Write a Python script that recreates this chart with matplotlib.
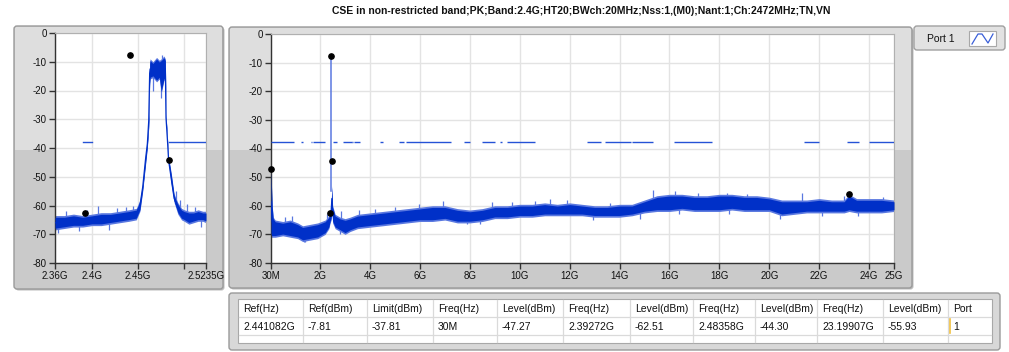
import matplotlib
matplotlib.use('Agg')
import matplotlib.pyplot as plt
from matplotlib.patches import FancyBboxPatch, Rectangle
from matplotlib.lines import Line2D
from matplotlib.transforms import Affine2D
import numpy as np

plt.rcParams['font.family'] = ['Liberation Sans', 'DejaVu Sans']

TITLE = "CSE in non-restricted band;PK;Band:2.4G;HT20;BWch:20MHz;Nss:1,(M0);Nant:1;Ch:2472MHz;TN,VN"

# ---------------- data: zoomed (band-edge) view, GHz / dBm ----------------
zoom_freq = [2.360, 2.370, 2.380, 2.390, 2.400, 2.410, 2.420, 2.430, 2.440, 2.448,
             2.452, 2.455, 2.458, 2.460, 2.4615, 2.4625, 2.463, 2.466, 2.470, 2.473,
             2.475, 2.478, 2.4795, 2.4802, 2.4817, 2.4830, 2.486, 2.489, 2.493, 2.497,
             2.500, 2.505, 2.510, 2.515, 2.520, 2.5235]
zoom_low = [-68.5, -68.0, -67.5, -67.5, -67.0, -67.0, -66.5, -66.0, -65.5, -65.0,
            -62.0, -55.0, -46.0, -40.0, -33.0, -18.0, -16.0, -15.5, -17.0, -16.0,
            -21.0, -16.5, -16.0, -31.0, -38.0, -45.5, -53.0, -59.0, -63.0, -65.0,
            -65.5, -66.5, -66.0, -65.5, -65.5, -66.0]
zoom_high = [-63.5, -63.5, -63.0, -63.5, -63.0, -62.5, -62.5, -62.0, -61.5, -61.0,
             -58.0, -52.0, -42.0, -37.0, -28.0, -10.0, -9.0, -10.0, -8.5, -9.5,
             -9.0, -8.0, -9.0, -28.0, -36.0, -43.0, -49.0, -56.0, -59.0, -61.0,
             -61.5, -62.0, -62.0, -61.5, -62.0, -62.0]
zoom_spike_freq = [2.363, 2.372, 2.386, 2.395, 2.407, 2.418, 2.427, 2.437, 2.444, 2.466,
                   2.4745, 2.476, 2.4905, 2.495, 2.503, 2.512, 2.518]
zoom_spike_level = [-69.5, -62.0, -69.0, -61.5, -60.0, -68.5, -61.0, -60.5, -60.0, -20.0,
                    -22.5, -7.5, -55.0, -58.0, -59.5, -60.5, -67.5]
zoom_xticks = [2.36, 2.40, 2.45, 2.50, 2.5235]
zoom_xticklabels = ['2.36G', '2.4G', '2.45G', '', '2.5235G']
zoom_limit_segments = [(2.39, 2.40), (2.4835, 2.5235)]

# ---------------- data: full sweep 30 MHz - 25 GHz ----------------
full_freq = [0.03, 0.05, 0.08, 0.12, 0.2, 0.5, 0.8, 1.1, 1.3, 1.6, 1.9, 2.2, 2.35, 2.40,
             2.44, 2.47, 2.50, 2.6, 2.8, 3.0, 3.2, 3.5, 4.0, 4.5, 5.0, 5.5, 6.0, 6.5, 7.0,
             7.5, 8.0, 8.5, 9.0, 9.5, 10.0, 10.5, 11.0, 11.5, 12.0, 12.5, 13.0, 13.5,
             14.0, 14.5, 15.0, 15.5, 16.0, 16.5, 17.0, 17.5, 18.0, 18.5, 19.0, 19.5,
             20.0, 20.5, 21.0, 21.5, 22.0, 22.5, 23.0, 23.2, 23.5, 24.0, 24.5, 25.0]
full_low = [-70.0, -71.0, -71.0, -71.0, -71.0, -70.5, -71.0, -71.5, -72.5, -72.0, -71.5,
            -70.0, -68.0, -66.0, -65.0, -62.0, -66.0, -68.0, -69.0, -70.0, -69.0, -68.0,
            -67.5, -67.0, -66.5, -66.0, -65.5, -65.5, -65.0, -66.0, -66.0, -65.5, -64.5,
            -64.5, -64.0, -64.0, -63.5, -63.5, -63.5, -63.5, -64.0, -64.0, -64.0, -63.5,
            -62.5, -62.0, -62.0, -61.5, -62.0, -62.0, -62.0, -61.5, -62.0, -62.0, -62.0,
            -63.5, -63.0, -62.5, -62.5, -62.5, -62.5, -62.0, -62.5, -62.5, -62.5, -62.0]
full_high = [-47.3, -53.0, -60.0, -64.0, -65.0, -65.5, -65.0, -66.0, -67.0, -66.5, -66.0,
             -65.0, -63.5, -62.5, -59.0, -53.0, -60.0, -63.0, -64.0, -64.5, -64.0, -63.0,
             -62.5, -62.0, -61.5, -61.0, -60.5, -60.0, -60.0, -61.0, -61.5, -61.0, -60.0,
             -60.0, -59.5, -59.5, -59.0, -59.5, -59.0, -59.5, -60.0, -60.0, -59.5, -59.5,
             -58.0, -56.5, -56.0, -56.0, -56.5, -56.5, -56.0, -56.0, -56.5, -56.5, -57.0,
             -58.0, -58.0, -58.0, -57.5, -58.0, -58.0, -56.0, -57.5, -57.5, -57.5, -58.0]
full_spike_freq = [0.59, 0.87, 1.34, 1.40, 2.28, 2.80, 2.85, 3.54, 4.2, 5.0, 5.95, 6.92,
                   7.9, 8.41, 8.88, 9.7, 10.61, 11.21, 11.88, 12.94, 13.62, 14.82, 15.35,
                   16.22, 16.4, 17.14, 18.29, 18.4, 19.1, 20.43, 21.3, 22.1, 23.0, 23.56,
                   24.56]
full_spike_level = [-64.0, -63.5, -72.5, -72.7, -63.0, -70.0, -62.0, -61.5, -61.0, -60.5,
                    -59.5, -58.5, -66.5, -66.5, -58.7, -58.8, -58.5, -57.5, -58.0, -65.0,
                    -59.0, -64.5, -54.5, -55.0, -63.0, -55.5, -55.5, -63.0, -56.0, -64.5,
                    -55.5, -63.5, -56.5, -63.5, -57.0]
carrier_freq = 2.45
carrier_level = -7.81
carrier_base = -55.0
full_xticks = [0.03, 2, 4, 6, 8, 10, 12, 14, 16, 18, 20, 22, 24, 25]
full_xticklabels = ['30M', '2G', '4G', '6G', '8G', '10G', '12G', '14G', '16G', '18G',
                    '20G', '22G', '24G', '25G']
full_limit_segments = [(0.03, 0.96), (1.24, 1.30), (1.427, 1.435), (1.6265, 1.6455),
                       (1.6465, 1.66), (1.71, 1.7188), (1.7222, 2.2), (2.3, 2.31),
                       (2.39, 2.40), (2.5, 2.69), (2.9, 3.26), (3.267, 3.332),
                       (3.339, 3.3458), (3.358, 3.6), (4.4, 4.5), (5.15, 5.35),
                       (5.46, 7.25), (7.75, 8.025), (8.5, 9.0), (9.2, 9.3), (9.5, 10.6),
                       (12.7, 13.25), (13.4, 14.47), (14.5, 15.35), (16.2, 17.7),
                       (21.4, 22.01), (23.12, 23.6), (24.0, 25.0)]
limit_level = -37.81

y_ticks = [0, -10, -20, -30, -40, -50, -60, -70, -80]

# markers
marker_freq = [2.441082, 0.03, 2.39272, 2.48358, 23.19907]
marker_level = [-7.81, -47.27, -62.51, -44.30, -55.93]

# table
table_headers = ['Ref(Hz)', 'Ref(dBm)', 'Limit(dBm)', 'Freq(Hz)', 'Level(dBm)', 'Freq(Hz)',
                 'Level(dBm)', 'Freq(Hz)', 'Level(dBm)', 'Freq(Hz)', 'Level(dBm)', 'Port']
table_values = ['2.441082G', '-7.81', '-37.81', '30M', '-47.27', '2.39272G', '-62.51',
                '2.48358G', '-44.30', '23.19907G', '-55.93', '1']

legend_label = 'Port 1'

# ---------------- layout ----------------
W, H = 1009, 352
fig = plt.figure(figsize=(W / 100, H / 100), dpi=100)
fig.patch.set_facecolor('white')
PX = Affine2D().scale(0.01, -0.01).translate(0, H * 0.01) + fig.dpi_scale_trans

TRACE = '#0030c8'
TRACE_LIGHT = '#5a78e0'
LIMIT = '#2552d6'
FRAME_UP = '#dedede'
FRAME_LO = '#cacaca'
BORDER = '#9a9a9a'


def rbox(x0, y0, x1, y1, fc, ec, z, r=3, lw=1.0):
    p = FancyBboxPatch((x0, y0), x1 - x0, y1 - y0,
                       boxstyle=f"round,pad=0,rounding_size={r}",
                       fc=fc, ec=ec, lw=lw, transform=PX, zorder=z)
    fig.add_artist(p)


def rect(x0, y0, x1, y1, fc, z, ec='none', lw=0):
    p = Rectangle((x0, y0), x1 - x0, y1 - y0, fc=fc, ec=ec, lw=lw, transform=PX, zorder=z)
    fig.add_artist(p)


def frame(x0, y0, x1, y1, split):
    rbox(x0 + 1.5, y0 + 1.5, x1 + 1.5, y1 + 1.5, '#bdbdbd', 'none', -30)
    rbox(x0, y0, x1, y1, FRAME_LO, 'none', -29)
    rect(x0 + 1, y0 + 1, x1 - 1, split, FRAME_UP, -28)
    rbox(x0, y0, x1, y1, 'none', BORDER, -27)


frame(14, 26, 223, 289, 150)
frame(229, 27, 912, 288, 150)


def axes_px(x0, y0, x1, y1):
    return fig.add_axes([x0 / W, 1 - y1 / H, (x1 - x0) / W, (y1 - y0) / H])


def style_axes(ax):
    ax.set_facecolor('white')
    ax.set_ylim(-80, 0)
    ax.set_yticks(y_ticks)
    ax.set_yticklabels([str(v) for v in y_ticks])
    ax.grid(True, color='#e3e3e3', lw=1.0)
    ax.set_axisbelow(True)
    ax.tick_params(direction='out', length=4, width=1, color='#333333',
                   labelsize=7, pad=2, labelcolor='#111111')
    for s in ['left', 'bottom']:
        ax.spines[s].set_color('#333333')
        ax.spines[s].set_linewidth(1.0)
    for s in ['top', 'right']:
        ax.spines[s].set_color('#b0b0b0')
        ax.spines[s].set_linewidth(0.8)


def draw_trace(ax, f, lo, hi, sf, sl):
    f = np.asarray(f)
    lo = np.asarray(lo)
    hi = np.asarray(hi)
    mid = (lo + hi) / 2
    ax.fill_between(f, lo, hi, color=TRACE_LIGHT, lw=0, zorder=2)
    inner_lo = np.minimum(lo + 0.6, mid)
    inner_hi = np.maximum(hi - 0.6, mid)
    ax.fill_between(f, inner_lo, inner_hi, color=TRACE, lw=0, zorder=3)
    ax.plot(f, mid, color=TRACE, lw=0.9, zorder=3)
    base = np.interp(sf, f, mid)
    ax.vlines(sf, base, sl, color=TRACE_LIGHT, lw=0.9, zorder=2)


# left (zoom) axes
axL = axes_px(55, 33, 206, 263)
style_axes(axL)
axL.set_xlim(zoom_xticks[0], zoom_xticks[-1])
axL.set_xticks(zoom_xticks)
axL.set_xticklabels(zoom_xticklabels)
draw_trace(axL, zoom_freq, zoom_low, zoom_high, zoom_spike_freq, zoom_spike_level)
for a, b in zoom_limit_segments:
    axL.plot([a, b], [limit_level, limit_level], color=LIMIT, lw=1.0, zorder=4)
axL.plot(marker_freq, marker_level, 'o', color='black', ms=3.8, zorder=6, clip_on=True)

# right (full) axes
axR = axes_px(271, 34, 894, 263)
style_axes(axR)
axR.set_xlim(full_xticks[0], full_xticks[-1])
axR.set_xticks(full_xticks)
axR.set_xticklabels(full_xticklabels)
draw_trace(axR, full_freq, full_low, full_high, full_spike_freq, full_spike_level)
axR.plot([carrier_freq, carrier_freq], [carrier_level, carrier_base], color=TRACE_LIGHT,
         lw=1.1, zorder=3)
for a, b in full_limit_segments:
    axR.plot([a, b], [limit_level, limit_level], color=LIMIT, lw=1.0, zorder=4,
             solid_capstyle='butt')
axR.plot(marker_freq, marker_level, 'o', color='black', ms=3.8, zorder=6, clip_on=False)

# title
fig.text(581 / W, 1 - 11 / H, TITLE, ha='center', va='center', fontsize=7.5,
         fontweight='bold', color='#111111')

# legend box
rbox(914, 26, 1005, 50, '#e2e2e2', '#a0a0a0', 1, r=3)
fig.text(927 / W, 1 - 38.5 / H, legend_label, ha='left', va='center', fontsize=7.5,
         color='#111111')
rect(969, 31, 996, 46, 'white', 2, ec='#a8a8a8', lw=0.8)
fig.add_artist(Line2D([972, 978, 982, 988, 993], [44, 34, 34, 43, 34], color='#3a5fd8',
                      lw=0.9, transform=PX, zorder=3))

# table
rbox(229, 293, 1000, 350, '#d8d8d8', BORDER, 1, r=3)
rect(238, 299, 992, 343, 'white', 2, ec='#a8a8a8', lw=0.8)
col_edges = [238, 303, 367, 433, 497, 563, 630, 693, 755, 817, 883, 948, 992]
for x in col_edges[1:-1]:
    fig.add_artist(Line2D([x, x], [300, 342], color='#dadada', lw=0.9, transform=PX, zorder=3))
for y in [317, 335]:
    fig.add_artist(Line2D([239, 991], [y, y], color='#dadada', lw=0.9, transform=PX, zorder=3))
for i, (h, v) in enumerate(zip(table_headers, table_values)):
    x = col_edges[i] + 5
    fig.text(x / W, 1 - 308.5 / H, h, ha='left', va='center', fontsize=7.5, color='#111111',
             zorder=4)
    fig.text(x / W, 1 - 326.5 / H, v, ha='left', va='center', fontsize=7.5, color='#111111',
             zorder=4)
fig.add_artist(Line2D([950, 950], [319, 333], color='#f0c040', lw=1.2, transform=PX, zorder=4))

fig.savefig('out.png', dpi=100)
